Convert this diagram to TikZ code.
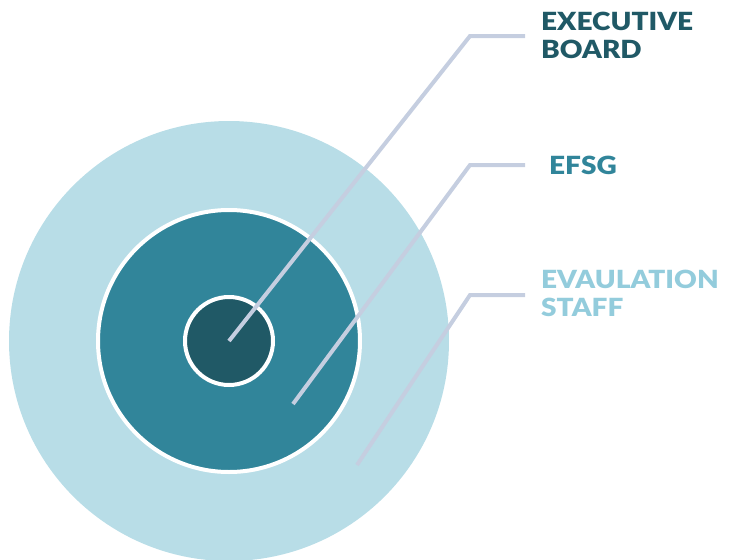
\documentclass[tikz,border=0pt]{standalone}
\usepackage{fontspec}
\setmainfont{Lato}[FakeStretch=1.12,BoldFont={Lato Black}]
\definecolor{outerc}{HTML}{B8DDE7}
\definecolor{midc}{HTML}{31859A}
\definecolor{innerc}{HTML}{205966}
\definecolor{linec}{HTML}{C5CEE0}
\definecolor{evalc}{HTML}{93CCDC}
\begin{document}
\begin{tikzpicture}[x=1pt,y=-1pt,
  ring/.style={circle,inner sep=0pt,line width=4pt,draw=white},
  lead/.style={draw=linec,line width=4pt},
  lbl/.style={anchor=base west,font=\bfseries\fontsize{25}{28}\selectfont,align=left,inner sep=0pt}]
\useasboundingbox (0,0) rectangle (732,560);
\node[circle,inner sep=0pt,minimum size=440pt,fill=outerc] (outer) at (229,341) {};
\node[ring,minimum size=262pt,fill=midc] (mid) at (229,341) {};
\node[ring,minimum size=88pt,fill=innerc] (inner) at (229,341) {};
\coordinate (e1) at (229,341);
\coordinate (e2) at (293,404);
\coordinate (e3) at (357,465);
\coordinate (k1) at (470,36);
\coordinate (k2) at (470,165);
\coordinate (k3) at (470,295);
\coordinate (h1) at (525,36);
\coordinate (h2) at (525,165);
\coordinate (h3) at (525,295);
\draw[lead] (e1) -- (k1) -- (h1);
\draw[lead] (e2) -- (k2) -- (h2);
\draw[lead] (e3) -- (k3) -- (h3);
\node[lbl,text=innerc] (exec) at (541,58) {EXECUTIVE\\BOARD};
\node[lbl,text=midc] (efsg) at (549,174) {EFSG};
\node[lbl,text=evalc] (eval) at (541,316) {EVAULATION\\STAFF};
\end{tikzpicture}
\end{document}
